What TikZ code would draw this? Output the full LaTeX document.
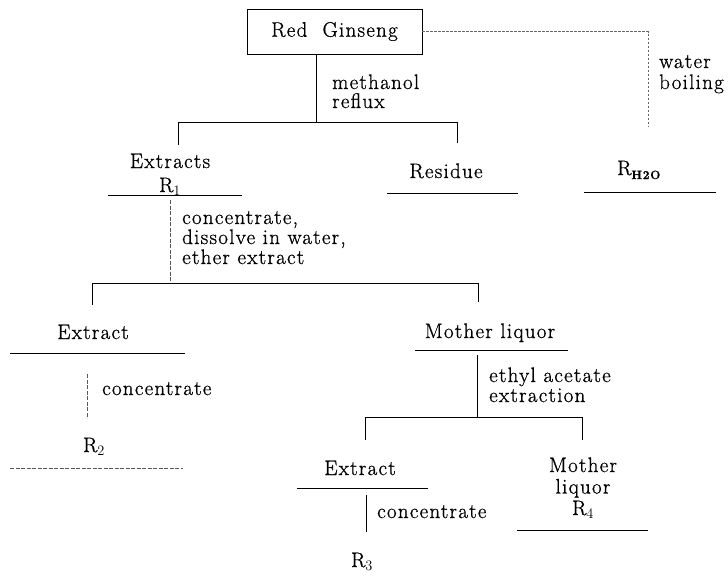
\documentclass[tikz,border=0pt]{standalone}
\usepackage{fontspec}
\setmainfont{Latin Modern Roman}[LetterSpace=6, FakeBold=0.8]
\newcommand{\fsz}[1]{\fontsize{21}{#1}\selectfont}
\begin{document}
\begin{tikzpicture}[x=1pt,y=-1pt,
  txt/.style={inner sep=0pt, font=\fsz{21}},
  ln/.style={line width=0.8pt, black},
  faded/.style={line width=0.7pt, black!65, dash pattern=on 4pt off 1.5pt},
  dotline/.style={line width=0.6pt, black!60, dash pattern=on 2.5pt off 1.5pt}]
\useasboundingbox (0,0) rectangle (728,579);

% ---- nodes ----
\node[draw, ln, minimum width=175pt, minimum height=45pt, inner sep=0pt, font=\fsz{21}] (rg) at (334.5,31.5) {Red\ \ Ginseng};
\node[txt, anchor=base west, align=left, font=\fsz{19}] (m1) at (332,108) {methanol\\reflux};
\node[txt, anchor=base, align=center, font=\fsz{24}] (ext1) at (170,192) {Extracts\\R$_1$};
\node[txt, anchor=base] (res) at (446,178) {Residue};
\node[txt, anchor=base west] (rh) at (617,175) {R\raisebox{-4pt}{\fontsize{12}{12}\selectfont\bfseries H2O}};
\node[txt, anchor=base west, align=left] (wb) at (659,89) {water\\boiling};
\node[txt, anchor=base west, align=left, font=\fsz{20}] (c1) at (182,264) {concentrate,\\dissolve in water,\\ether extract};
\node[txt, anchor=base] (ext2) at (93,339) {Extract};
\node[txt, anchor=base west] (c2) at (102,395) {concentrate};
\node[txt, anchor=base] (r2) at (94,452) {R$_2$};
\node[txt, anchor=base] (ml1) at (490,338) {Mother liquor};
\node[txt, anchor=base west, align=left, font=\fsz{20}] (ea) at (489,402) {ethyl acetate\\extraction};
\node[txt, anchor=base] (ext3) at (360,475) {Extract};
\node[txt, anchor=base west] (c3) at (377,518) {concentrate};
\node[txt, anchor=base] (r3) at (362,567) {R$_3$};
\node[txt, anchor=base, align=center, font=\fsz{21.5}] (ml2) at (583,515) {Mother\\liquor\\R$_4$};

% ---- bars and coordinates ----
\coordinate (b1l) at (178,122); \coordinate (b1r) at (457,122); \coordinate (b1) at (316,122);
\coordinate (t1l) at (178,145); \coordinate (t1r) at (457,143);
\coordinate (u1l) at (108,195); \coordinate (u1r) at (242,195); \coordinate (u1) at (170,200);
\coordinate (u2l) at (387,193); \coordinate (u2r) at (518,193);
\coordinate (u3l) at (584,192); \coordinate (u3r) at (716,192);
\coordinate (wc) at (648,31.5); \coordinate (wd) at (648,127);
\coordinate (b2l) at (92,283); \coordinate (b2r) at (478,283); \coordinate (b2) at (170,283);
\coordinate (t2l) at (92,305); \coordinate (t2r) at (478,302);
\coordinate (u4l) at (10,353); \coordinate (u4r) at (185,353);
\coordinate (v4a) at (87,374); \coordinate (v4b) at (87,418);
\coordinate (u5l) at (10,468); \coordinate (u5r) at (183,468);
\coordinate (u6l) at (415,350); \coordinate (u6r) at (568,350);
\coordinate (v6a) at (477,355); \coordinate (b3) at (477,417);
\coordinate (b3l) at (365,417); \coordinate (b3r) at (582,417);
\coordinate (t3l) at (365,440); \coordinate (t3r) at (582,440);
\coordinate (u7l) at (297,488); \coordinate (u7r) at (428,488);
\coordinate (v7a) at (366,495); \coordinate (v7b) at (366,532);
\coordinate (u8l) at (517,530); \coordinate (u8r) at (648,530);

% ---- lines ----
\draw[ln] (rg.south -| b1) -- (b1);
\draw[ln] (b1l) -- (b1r);
\draw[ln] (b1l) -- (t1l);
\draw[ln] (b1r) -- (t1r);
\draw[ln] (u1l) -- (u1r);
\draw[ln] (u2l) -- (u2r);
\draw[ln] (u3l) -- (u3r);
\draw[dotline] (rg.east) -- (wc) -- (wd);
\draw[faded] (u1) -- (b2);
\draw[ln] (b2l) -- (b2r);
\draw[ln] (b2l) -- (t2l);
\draw[ln] (b2r) -- (t2r);
\draw[ln] (u4l) -- (u4r);
\draw[faded] (v4a) -- (v4b);
\draw[faded] (u5l) -- (u5r);
\draw[ln] (u6l) -- (u6r);
\draw[ln] (v6a) -- (b3);
\draw[ln] (b3l) -- (b3r);
\draw[ln] (b3l) -- (t3l);
\draw[ln] (b3r) -- (t3r);
\draw[ln] (u7l) -- (u7r);
\draw[ln] (v7a) -- (v7b);
\draw[ln] (u8l) -- (u8r);
\end{tikzpicture}
\end{document}
